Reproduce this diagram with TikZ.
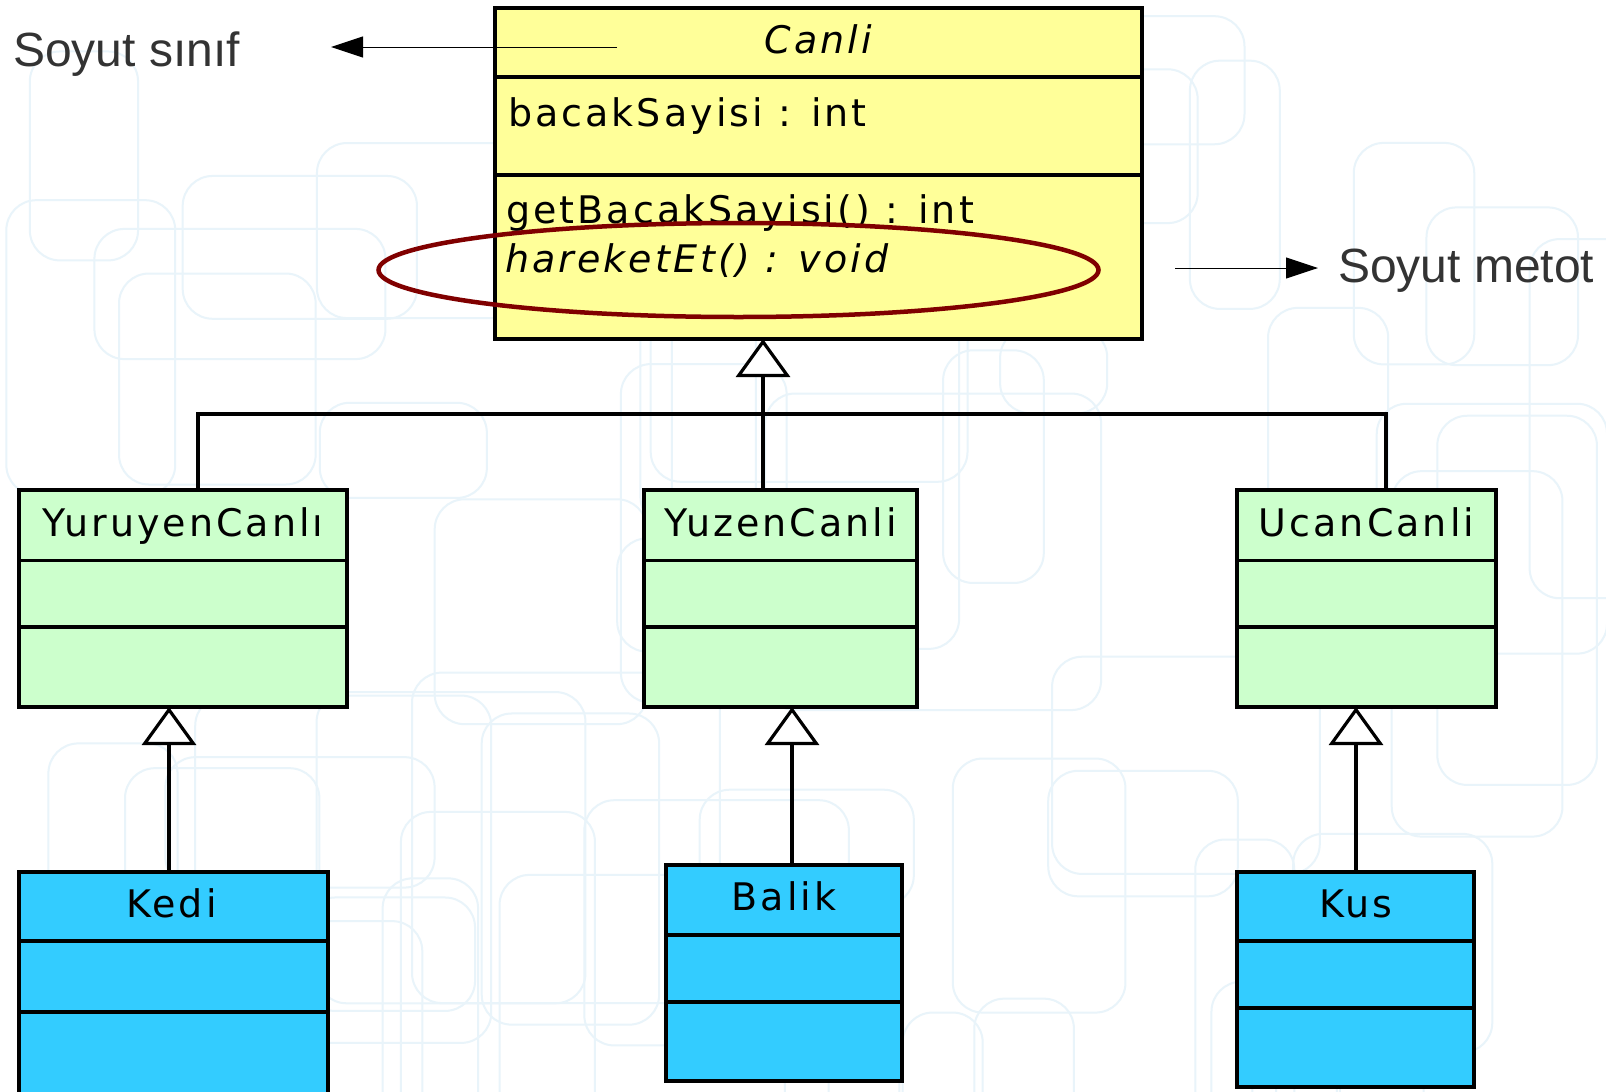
\documentclass[tikz,border=0pt]{standalone}
\usepackage{fontspec}
\usetikzlibrary{calc,arrows.meta}
\newfontfamily\umlfont{DejaVu Sans}[LetterSpace=8]
\newfontfamily\notfont{Liberation Sans}
\definecolor{sari}{HTML}{FFFF99}
\definecolor{yesil}{HTML}{CCFFCC}
\definecolor{mavi}{HTML}{33CCFF}
\definecolor{bordo}{HTML}{800000}
\definecolor{notgri}{HTML}{333333}
\definecolor{desen}{HTML}{E9F4FA}
\tikzset{
	sinif/.style={draw, line width=4.5pt, anchor=north west, inner sep=0pt, outer sep=0pt},
	bolme/.style={line width=3.5pt},
	uml/.style={font=\umlfont\fontsize{38}{44}\selectfont, inner sep=0pt},
	aciklama/.style={font=\notfont\fontsize{48}{56}\selectfont, text=notgri, inner sep=0pt, anchor=base west},
	baglanti/.style={line width=3.2pt},
	kalitim/.style={line width=3.2pt, -{Triangle[length=38pt, width=54pt, fill=white]}},
	isaret/.style={line width=1pt, -{Triangle[length=32pt, width=21pt]}}
}

\begin{document}
\begin{tikzpicture}[x=1pt, y=-1pt]
		%%%%% START %%%%%
		\useasboundingbox (0,0) rectangle (1606,1092);
		\fill[white] (0,0) rectangle (1606,1092);
		
		% faint background pattern
		\pgfmathsetseed{7}
		\foreach \i in {1,...,55} {
			\pgfmathsetmacro{\px}{rnd*1550}
			\pgfmathsetmacro{\py}{rnd*1050}
			\pgfmathsetmacro{\pw}{80+rnd*260}
			\pgfmathsetmacro{\ph}{80+rnd*300}
			\draw[desen, line width=2pt, rounded corners=30pt] (\px,\py) rectangle (\px+\pw,\py+\ph);
		}
		
		% soyut sinif
		\node[sinif, fill=sari, minimum width=647pt, minimum height=331pt] (canli) at (495,8) {};
		\draw[bolme] (canli.west |- 0,77) -- (canli.east |- 0,77);
		\draw[bolme] (canli.west |- 0,175) -- (canli.east |- 0,175);
		\node[uml, anchor=base] (canli-ad) at ($(canli.north)+(0,45)$) {\itshape Canli};
		\node[uml, anchor=base west] (canli-alan) at (508,126) {bacakSayisi : int};
		\node[uml, anchor=base west] (canli-get) at (506,223) {getBacakSayisi() : int};
		\node[uml, anchor=base west] (canli-hareket) at (505,272) {\itshape hareketEt() : void};
		\draw[bordo, line width=4.5pt] (738.5,270) ellipse [x radius=360pt, y radius=47pt];
		
		% notlar
		\node[aciklama] (soyut-sinif) at (13,66) {Soyut sınıf};
		\node[aciklama] (soyut-metot) at (1338,282) {Soyut metot};
		\coordinate (ok1-bas) at (617,47);
		\coordinate (ok1-uc) at (331,47);
		\draw[isaret] (ok1-bas) -- (ok1-uc);
		\coordinate (ok2-bas) at (1175,268);
		\coordinate (ok2-uc) at (1318,268);
		\draw[isaret] (ok2-bas) -- (ok2-uc);
		
		% ara siniflar
		\node[sinif, fill=yesil, minimum width=328pt, minimum height=217pt] (yuruyen) at (19,490) {};
		\node[sinif, fill=yesil, minimum width=273pt, minimum height=217pt] (yuzen) at (644,490) {};
		\node[sinif, fill=yesil, minimum width=259pt, minimum height=217pt] (ucan) at (1237,490) {};
		\foreach \s in {yuruyen,yuzen,ucan} {
			\draw[line width=3pt] (\s.west |- 0,560) -- (\s.east |- 0,560);
			\draw[line width=4pt] (\s.west |- 0,627) -- (\s.east |- 0,627);
		}
		\node[uml, anchor=base] (yuruyen-ad) at ($(yuruyen.north)+(0,46)$) {YuruyenCanlı};
		\node[uml, anchor=base] (yuzen-ad) at ($(yuzen.north)+(0,46)$) {YuzenCanli};
		\node[uml, anchor=base] (ucan-ad) at ($(ucan.north)+(0,46)$) {UcanCanli};
		
		\coordinate (dal-sol) at (198,414);
		\coordinate (dal-orta) at (763,414);
		\coordinate (dal-sag) at (1386,414);
		\draw[baglanti] (yuruyen.north -| dal-sol) -- (dal-sol) -- (dal-sag) -- (ucan.north -| dal-sag);
		\draw[kalitim] (yuzen.north -| dal-orta) -- (canli.south -| dal-orta);
		
		% alt siniflar
		\node[sinif, fill=mavi, minimum width=309pt, minimum height=240pt] (kedi) at (19,872) {};
		\draw[bolme] (kedi.west |- 0,941) -- (kedi.east |- 0,941);
		\draw[bolme] (kedi.west |- 0,1012) -- (kedi.east |- 0,1012);
		\node[sinif, fill=mavi, minimum width=236pt, minimum height=216pt] (balik) at (666,865) {};
		\draw[bolme] (balik.west |- 0,935) -- (balik.east |- 0,935);
		\draw[bolme] (balik.west |- 0,1002) -- (balik.east |- 0,1002);
		\node[sinif, fill=mavi, minimum width=237pt, minimum height=215pt] (kus) at (1237,872) {};
		\draw[bolme] (kus.west |- 0,941) -- (kus.east |- 0,941);
		\draw[bolme] (kus.west |- 0,1008) -- (kus.east |- 0,1008);
		\node[uml, anchor=base] (kedi-ad) at ($(kedi.north)+(-2,45)$) {Kedi};
		\node[uml, anchor=base] (balik-ad) at ($(balik.north)+(0,45)$) {Balik};
		\node[uml, anchor=base] (kus-ad) at ($(kus.north)+(0,45)$) {Kus};
		
		\coordinate (k1) at (169,800);
		\coordinate (k2) at (792,800);
		\coordinate (k3) at (1356,800);
		\draw[kalitim] (kedi.north -| k1) -- (yuruyen.south -| k1);
		\draw[kalitim] (balik.north -| k2) -- (yuzen.south -| k2);
		\draw[kalitim] (kus.north -| k3) -- (ucan.south -| k3);
		%%%%% END %%%%%
\end{tikzpicture}
\end{document}
